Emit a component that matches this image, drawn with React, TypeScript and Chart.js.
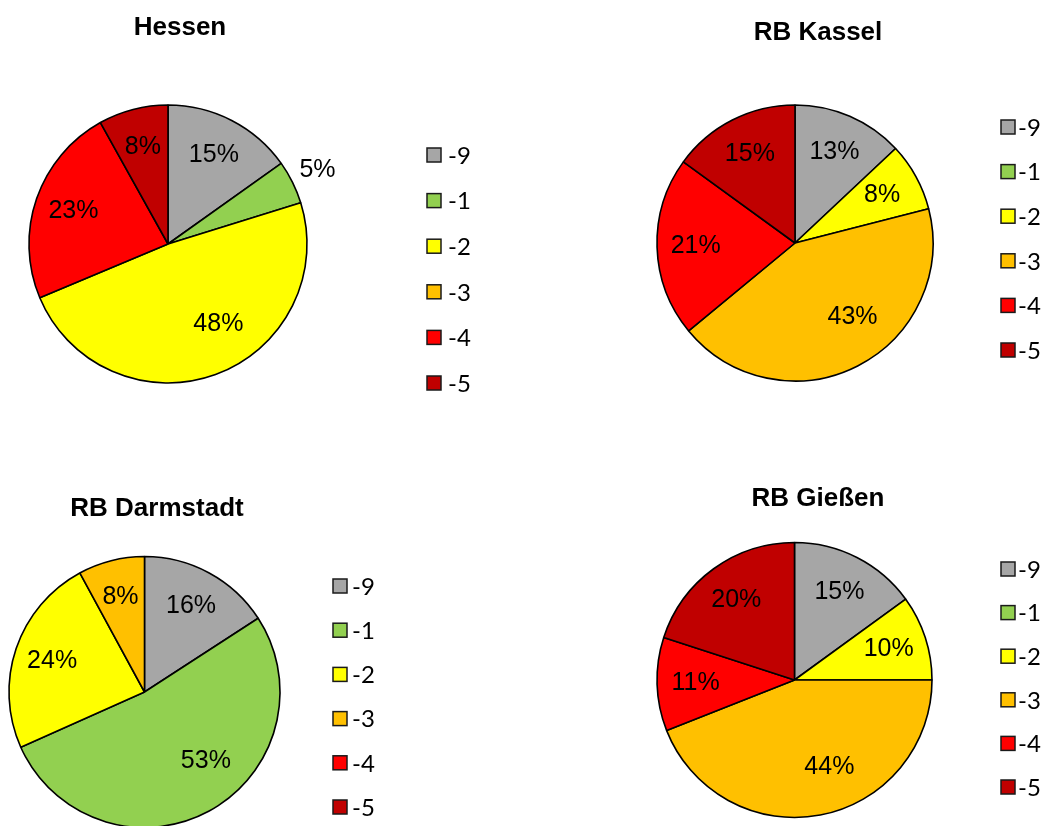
import React, { useEffect, useRef } from "react";
import { Chart, registerables } from "chart.js";

Chart.register(...registerables);

// Categories and slice colours shared by all four pies
const categories = ["-9", "-1", "-2", "-3", "-4", "-5"];
const sliceColors = ["#A6A6A6", "#92D050", "#FFFF00", "#FFC000", "#FF0000", "#C00000"];

// Percent shares per region, in category order
const hessenValues = [15, 5, 48, 0, 23, 8];
const kasselValues = [13, 0, 8, 43, 21, 15];
const darmstadtValues = [16, 53, 24, 8, 0, 0];
const giessenValues = [15, 0, 10, 44, 11, 20];

const PAGE_W = 1050;
const PAGE_H = 826;
const CANVAS_H = 840;
const BORDER_W = 1.6;

type Panel = {
  title: string;
  values: number[];
  cx: number;
  cy: number;
  r: number;
  titleX: number;
  titleY: number;
  legendX: number;
  legendY: number;
  legendStep: number;
  textGap: number;
};

const panels: Panel[] = [
  { title: "Hessen", values: hessenValues, cx: 168, cy: 244, r: 139, titleX: 180, titleY: 28, legendX: 427, legendY: 155, legendStep: 45.6, textGap: 21 },
  { title: "RB Kassel", values: kasselValues, cx: 795, cy: 243, r: 138, titleX: 818, titleY: 33, legendX: 1001, legendY: 127, legendStep: 44.6, textGap: 17 },
  { title: "RB Darmstadt", values: darmstadtValues, cx: 144.5, cy: 692, r: 135.5, titleX: 157, titleY: 509, legendX: 333, legendY: 586, legendStep: 44.2, textGap: 19 },
  { title: "RB Gießen", values: giessenValues, cx: 794.5, cy: 680, r: 137.5, titleX: 818, titleY: 499, legendX: 1001, legendY: 569, legendStep: 43.6, textGap: 17 },
];

// Draws the title, the percent labels and the legend of one pie
const panelDecor = {
  id: "panelDecor",
  afterDatasetsDraw(chart: any, _args: any, opts: any) {
    const ctx: CanvasRenderingContext2D = chart.ctx;
    const meta = chart.getDatasetMeta(0);
    const values = chart.data.datasets[0].data as number[];
    const colors = chart.data.datasets[0].backgroundColor as string[];
    const labels = chart.data.labels as string[];
    ctx.save();

    // percent labels: small slices outside, large ones pulled towards the slice start
    ctx.font = "25px 'Liberation Sans', Arial, sans-serif";
    ctx.fillStyle = "#000";
    ctx.textAlign = "center";
    ctx.textBaseline = "middle";
    meta.data.forEach((arc: any, i: number) => {
      const v = values[i];
      if (!v) return;
      const p = arc.getProps(["x", "y", "startAngle", "endAngle", "outerRadius"], true);
      const big = v > 40;
      const ang = p.startAngle + (p.endAngle - p.startAngle) * (big ? 0.43 : 0.5);
      const d = p.outerRadius * (v < 6 ? 1.2 : big ? 0.68 : 0.72);
      ctx.fillText(v + "%", p.x + Math.cos(ang) * d, p.y + Math.sin(ang) * d);
    });

    // title
    ctx.font = "bold 26px 'Liberation Sans', Arial, sans-serif";
    ctx.fillText(opts.title, opts.titleX, opts.titleY);

    // legend
    ctx.textAlign = "left";
    ctx.font = "24px Lato, 'Open Sans', sans-serif";
    labels.forEach((lab, i) => {
      const y = opts.legendY + i * opts.legendStep;
      ctx.fillStyle = colors[i];
      ctx.fillRect(opts.legendX, y - 7, 14, 14);
      ctx.strokeStyle = "#1a1a1a";
      ctx.lineWidth = 1.5;
      ctx.strokeRect(opts.legendX, y - 7, 14, 14);
      ctx.fillStyle = "#000";
      ctx.fillText(lab, opts.legendX + opts.textGap, y + 1);
    });
    ctx.restore();
  },
};

function PieCanvas({ panel }: { panel: Panel }) {
  const ref = useRef<HTMLCanvasElement>(null);
  useEffect(() => {
    if (!ref.current) return;
    const half = panel.r + BORDER_W / 2;
    const chart = new Chart(ref.current, {
      type: "pie",
      data: {
        labels: categories,
        datasets: [
          {
            data: panel.values,
            backgroundColor: sliceColors,
            borderColor: "#000",
            borderWidth: BORDER_W,
          },
        ],
      },
      options: {
        responsive: false,
        animation: false,
        events: [],
        layout: {
          padding: {
            left: panel.cx - half,
            top: panel.cy - half,
            right: PAGE_W - (panel.cx + half),
            bottom: CANVAS_H - (panel.cy + half),
          },
        },
        plugins: {
          legend: { display: false },
          tooltip: { enabled: false },
          title: { display: false },
          panelDecor: {
            title: panel.title,
            titleX: panel.titleX,
            titleY: panel.titleY,
            legendX: panel.legendX,
            legendY: panel.legendY,
            legendStep: panel.legendStep,
            textGap: panel.textGap,
          },
        } as any,
      },
      plugins: [panelDecor],
    });
    return () => chart.destroy();
  }, [panel]);
  return (
    <canvas
      ref={ref}
      width={PAGE_W}
      height={CANVAS_H}
      style={{ position: "absolute", left: 0, top: 0, width: PAGE_W, height: CANVAS_H }}
    />
  );
}

export default function App() {
  return (
    <div
      style={{
        position: "fixed",
        left: 0,
        top: 0,
        width: PAGE_W,
        height: PAGE_H,
        overflow: "hidden",
        background: "#fff",
      }}
    >
      {panels.map((p) => (
        <PieCanvas key={p.title} panel={p} />
      ))}
    </div>
  );
}
